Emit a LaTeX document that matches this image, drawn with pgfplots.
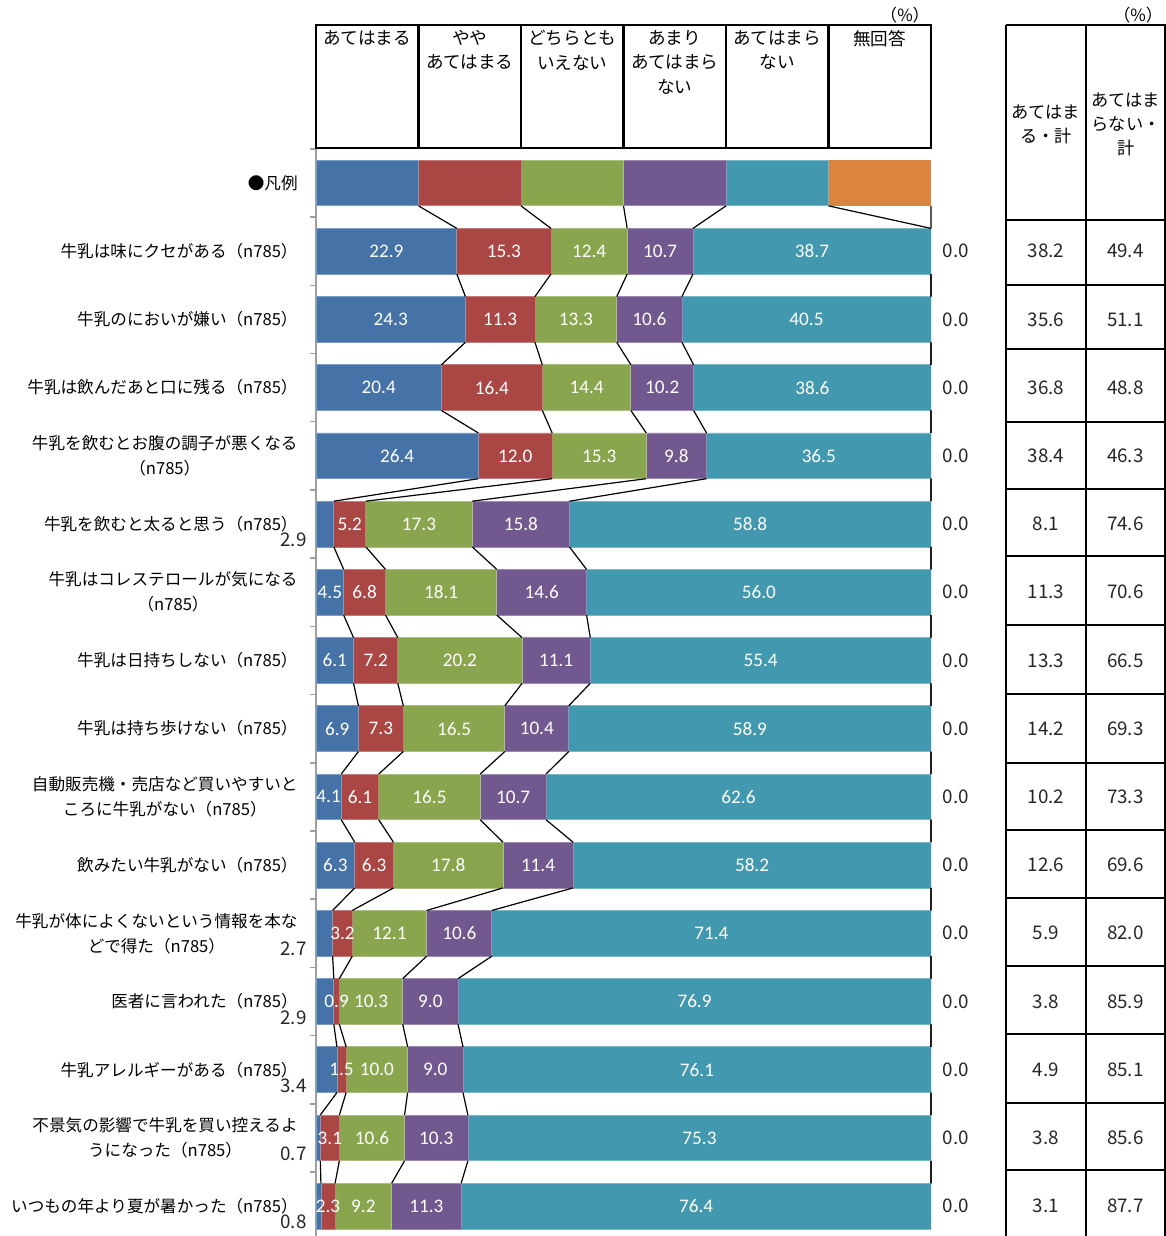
\documentclass[border=0pt]{standalone}
\usepackage{fontspec}
\setmainfont{Noto Sans CJK JP}
\newfontfamily\barfont{Carlito}
\usepackage{pgfplots}
\usepackage{pgfplotstable}
\pgfplotsset{compat=1.18}

\definecolor{cA}{HTML}{4572A7}
\definecolor{cB}{HTML}{AA4643}
\definecolor{cC}{HTML}{89A54E}
\definecolor{cD}{HTML}{71588F}
\definecolor{cE}{HTML}{4198AF}
\definecolor{cF}{HTML}{DB843D}

% row 0 is the key bar (six equal parts); rows 1-15 are the items
% a..f: あてはまる … 無回答, tA/tB: あてはまる・計 / あてはまらない・計
\pgfplotstableread{
row a b c d e f tA tB
0 16.6667 16.6667 16.6667 16.6667 16.6667 16.6667 nan nan
1 22.9 15.3 12.4 10.7 38.7 0.0 38.2 49.4
2 24.3 11.3 13.3 10.6 40.5 0.0 35.6 51.1
3 20.4 16.4 14.4 10.2 38.6 0.0 36.8 48.8
4 26.4 12.0 15.3 9.8 36.5 0.0 38.4 46.3
5 2.9 5.2 17.3 15.8 58.8 0.0 8.1 74.6
6 4.5 6.8 18.1 14.6 56.0 0.0 11.3 70.6
7 6.1 7.2 20.2 11.1 55.4 0.0 13.3 66.5
8 6.9 7.3 16.5 10.4 58.9 0.0 14.2 69.3
9 4.1 6.1 16.5 10.7 62.6 0.0 10.2 73.3
10 6.3 6.3 17.8 11.4 58.2 0.0 12.6 69.6
11 2.7 3.2 12.1 10.6 71.4 0.0 5.9 82.0
12 2.9 0.9 10.3 9.0 76.9 0.0 3.8 85.9
13 3.4 1.5 10.0 9.0 76.1 0.0 4.9 85.1
14 0.7 3.1 10.6 10.3 75.3 0.0 3.8 85.6
15 0.8 2.3 9.2 11.3 76.4 0.0 3.1 87.7
}\data

\def\halfbar{0.335}
\def\colname#1{\ifcase#1\or a\or b\or c\or d\or e\or f\fi}

% series line for the boundary after the first #1 segments:
% from the bottom of one bar to the top of the next
\newcommand\seriesline[1]{%
  \def\pts{}%
  \pgfplotsforeachungrouped \rr in {0,...,15}{%
    \def\cval{0}%
    \pgfplotsforeachungrouped \jj in {1,...,#1}{%
      \edef\cn{\colname{\jj}}%
      \pgfplotstablegetelem{\rr}{\cn}\of\data
      \pgfmathsetmacro\cval{\cval+\pgfplotsretval}%
    }%
    \ifnum\rr>0\relax
      \pgfmathsetmacro\yt{\rr-\halfbar}%
      \edef\pts{\pts (\prevc,\prevy) (\cval,\yt) (0,nan)}%
    \fi
    \pgfmathsetmacro\prevy{\rr+\halfbar}%
    \let\prevc\cval
  }%
  \edef\tmp{\noexpand\addplot[sline] coordinates {\pts};}%
  \tmp
}

\pgfplotsset{
  base/.style={
    scale only axis, width=307.5pt, height=543.6pt,
    xmin=0, xmax=100, ymin=-0.5, ymax=15.44, y dir=reverse,
    at={(158pt,-74.45pt)}, anchor=north west,
  },
  sline/.style={black, line width=0.6pt, mark=none, unbounded coords=jump},
  lab/.style={only marks, mark=*, mark size=0pt,
    mark options={draw=none, fill=none},
    point meta=explicit,
    skip coords between index={0}{1},
    nodes near coords={\pgfmathprintnumber[fixed,fixed zerofill,precision=1,assume math mode=true]{\pgfplotspointmeta}},
  },
  inbar/.style={lab, every node near coord/.append style={anchor=center, inner sep=0pt,
    text=white, font=\barfont\fontsize{9.6}{11}\selectfont}},
  outbar/.style={lab, every node near coord/.append style={anchor=center, inner sep=0pt,
    text=black!85, font=\fontsize{9.4}{11}\selectfont}},
}

\begin{document}
\begin{tikzpicture}
\useasboundingbox (0,0) rectangle (583pt,-618pt);

% stacked bars with the category axis
\begin{axis}[base, xbar stacked, bar width=0.67,
  axis x line=none, axis y line=left,
  y axis line style={-, draw=gray!75, line width=0.75pt},
  ytick={0,...,15},
  yticklabels={
    {●凡例},
    {牛乳は味にクセがある（n785）},
    {牛乳のにおいが嫌い（n785）},
    {牛乳は飲んだあと口に残る（n785）},
    {牛乳を飲むとお腹の調子が悪くなる\\（n785）},
    {牛乳を飲むと太ると思う（n785）},
    {牛乳はコレステロールが気になる\\（n785）},
    {牛乳は日持ちしない（n785）},
    {牛乳は持ち歩けない（n785）},
    {自動販売機・売店など買いやすいと\\ころに牛乳がない（n785）},
    {飲みたい牛乳がない（n785）},
    {牛乳が体によくないという情報を本な\\どで得た（n785）},
    {医者に言われた（n785）},
    {牛乳アレルギーがある（n785）},
    {不景気の影響で牛乳を買い控えるよ\\うになった（n785）},
    {いつもの年より夏が暑かった（n785）}},
  major tick length=0pt,
  minor ytick={-0.5,0.5,...,14.5},
  minor tick length=3pt, tick align=outside,
  minor tick style={draw=gray!75, line width=0.75pt},
  yticklabel style={align=center, anchor=east, inner sep=0pt, xshift=-9pt,
    font=\fontsize{8.3}{12.5}\selectfont},
]
\addplot[fill=cA, draw=cA!70!white, line width=0.4pt] table[x=a, y=row] \data;
\addplot[fill=cB, draw=cB!70!white, line width=0.4pt] table[x=b, y=row] \data;
\addplot[fill=cC, draw=cC!70!white, line width=0.4pt] table[x=c, y=row] \data;
\addplot[fill=cD, draw=cD!70!white, line width=0.4pt] table[x=d, y=row] \data;
\addplot[fill=cE, draw=cE!70!white, line width=0.4pt] table[x=e, y=row] \data;
\addplot[fill=cF, draw=none] table[x=f, y=row] \data;
\end{axis}

% series lines and value labels
\begin{axis}[base, hide axis, clip=false]
\pgfplotsinvokeforeach{1,...,6}{\seriesline{#1}}

\addplot[inbar] table[x expr={\thisrow{a}<4 ? nan : \thisrow{a}/2}, y=row, meta=a] \data;
\addplot[outbar, every node near coord/.append style={anchor=east, xshift=-4.5pt, yshift=-8pt}]
  table[x expr={\thisrow{a}<4 ? 0 : nan}, y=row, meta=a] \data;
\addplot[inbar] table[x expr={\thisrow{a}+\thisrow{b}/2}, y=row, meta=b] \data;
\addplot[inbar] table[x expr={\thisrow{a}+\thisrow{b}+\thisrow{c}/2}, y=row, meta=c] \data;
\addplot[inbar] table[x expr={\thisrow{a}+\thisrow{b}+\thisrow{c}+\thisrow{d}/2}, y=row, meta=d] \data;
\addplot[inbar] table[x expr={\thisrow{a}+\thisrow{b}+\thisrow{c}+\thisrow{d}+\thisrow{e}/2}, y=row, meta=e] \data;
% 無回答 and the two totals columns
\addplot[outbar] table[x expr=104.07, y=row, meta=f] \data;
\addplot[outbar] table[x expr=118.7, y=row, meta=tA] \data;
\addplot[outbar] table[x expr=131.6, y=row, meta=tB] \data;
\end{axis}

% header boxes and the totals table frame
\begin{scope}[x=0.5pt, y=-0.5pt, line width=1.25pt]
  \draw (316,25) rectangle (931,148);
  \foreach \i in {1,...,5} \draw ({316+102.5*\i},25) -- ({316+102.5*\i},148);
  \foreach \i/\t in {0/{あてはまる}, 1/{やや\\あてはまる}, 2/{どちらとも\\いえない},
                     3/{あまり\\あてはまら\\ない}, 4/{あてはまら\\ない}, 5/{無回答}}
    \node[anchor=north, align=center, inner sep=0pt, font=\fontsize{8.8}{12.25}\selectfont]
      at ({316+102.5*(\i+0.5)},29) {\t};
  \node[font=\fontsize{8.4}{9}\selectfont, inner sep=0pt] at (905,15) {（\%）};
  \node[font=\fontsize{8.4}{9}\selectfont, inner sep=0pt, anchor=east] at (1164,15) {（\%）};

  \draw (1006,25) -- (1166,25);
  \foreach \x in {1006,1086,1165} \draw (\x,25) -- (\x,1236);
  \foreach \y in {220,285,349,422,489,556,625,694,763,830,898,966,1034,1103,1170}
    \draw (1006,\y) -- (1166,\y);
  \node[align=center, inner sep=0pt, font=\fontsize{8.6}{12}\selectfont] at (1046,124) {あてはま\\る・計};
  \node[align=center, inner sep=0pt, font=\fontsize{8.6}{12}\selectfont] at (1126,124) {あてはま\\らない・\\計};
\end{scope}
\end{tikzpicture}
\end{document}
